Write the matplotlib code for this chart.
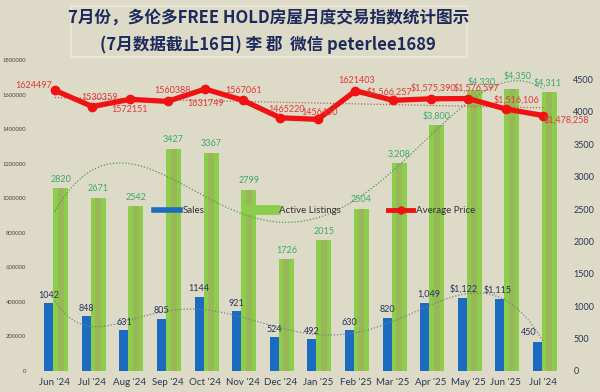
import matplotlib
matplotlib.use("Agg")
import matplotlib.pyplot as plt
import numpy as np
from matplotlib.lines import Line2D
from matplotlib.patches import FancyBboxPatch
from matplotlib.ticker import FuncFormatter

# ---- data ----
months = ["Jun '24", "Jul '24", "Aug '24", "Sep '24", "Oct '24", "Nov '24", "Dec '24",
          "Jan '25", "Feb '25", "Mar '25", "Apr '25", "May '25", "Jun '25", "Jul '24"]
sales = [1042, 848, 631, 805, 1144, 921, 524, 492, 630, 820, 1049, 1122, 1115, 450]
active = [2820, 2671, 2542, 3427, 3367, 2799, 1726, 2015, 2504, 3208, 3800, 4330, 4350, 4311]
price = [1624497, 1530359, 1572151, 1560388, 1631749, 1567061, 1465220,
         1456450, 1621403, 1566257, 1575390, 1576597, 1516106, 1478258]

sales_labels = ["1042", "848", "631", "805", "1144", "921", "524", "492", "630", "820",
                "1,049", "$1,122", "$1,115", "450"]
active_labels = ["2820", "2671", "2542", "3427", "3367", "2799", "1726", "2015", "2504",
                 "3,208", "$3,800", "$4,330", "$4,350", "$4,311"]
price_labels = ["1624497", "1530359", "1572151", "1560388", "1631749", "1567061", "1465220",
                "1456450", "1621403", "$1,566,257", "$1,575,390", "$1,576,597",
                "$1,516,106", "$1,478,258"]
# label offsets in pixels (dx, dy)
price_offsets = [(-21, 5), (7, 9), (0, -10), (5, 11), (1, -14), (1, 10), (6, 8),
                 (2, 7), (1, 10), (-4, 8), (3, 11), (8, 11), (11, 9), (23, -4)]
sales_offsets = [(0, 8)] * 10 + [(4, 9), (1, 9), (-2, 9), (-9, 9)]
active_offsets = [(0, 9)] * 11 + [(7, 8), (6, 13), (-2, 9)]

BG = "#dedac8"
NAVY = "#1d2b5c"
BLUE = "#1b6cc0"
GREEN = "#8ccd4b"
OLIVE = "#9db25c"
RED = "#f01212"

plt.rcParams["font.family"] = ["Lato", "DejaVu Sans"]

fig = plt.figure(figsize=(6, 3.92), dpi=100, facecolor=BG)
ax = fig.add_axes([0.06, 0.0536, 0.877, 0.7934])
ax.set_facecolor(BG)
ax2 = ax.twinx()

x = np.arange(len(months))

# bars on the right axis
ax2.bar(x - 0.16, sales, width=0.24, color=BLUE, zorder=2)
ax2.bar(x + 0.16, active, width=0.40, color=GREEN, zorder=1)
ax2.bar(x + 0.16, active, width=0.16, color=OLIVE, alpha=0.8, zorder=1)

# polynomial trendlines
xs = np.linspace(0, len(months) - 1, 200)
ax2.plot(xs, np.polyval(np.polyfit(x, active, 4), xs), ls=(0, (1, 1.5)),
         color="#4a9a55", lw=0.9, zorder=3)
ax2.plot(xs, np.polyval(np.polyfit(x, sales, 6), xs), ls=(0, (1, 1.5)),
         color="#7a7f88", lw=0.9, zorder=3)

for i in x:
    ax2.annotate(sales_labels[i], (i - 0.16, sales[i]), xytext=sales_offsets[i],
                 textcoords="offset pixels", ha="center", va="center",
                 fontsize=6.5, color="#26345e", zorder=6)
    ax2.annotate(active_labels[i], (i + 0.16, active[i]), xytext=active_offsets[i],
                 textcoords="offset pixels", ha="center", va="center",
                 fontsize=6.5, color="#3daa66", zorder=6)

ax2.set_ylim(0, 4800)
ax2.set_yticks(range(0, 5000, 500))
ax2.tick_params(axis="y", length=0, labelsize=6.5, labelcolor="#2b3555", pad=8)

# price line on the left axis (drawn on top)
ax.set_zorder(ax2.get_zorder() + 1)
ax.patch.set_visible(False)
ax.plot(x, np.polyval(np.polyfit(x, price, 1), x), ls=(0, (1, 1.5)),
        color="#b06060", lw=0.9, zorder=3)
ax.plot(x, price, color=RED, lw=3.8, marker="o", markersize=6, zorder=4,
        solid_capstyle="round")
for i in x:
    ax.annotate(price_labels[i], (i, price[i]), xytext=price_offsets[i],
                textcoords="offset pixels", ha="center", va="center",
                fontsize=6.5, color="#e03838", zorder=6)

ax.set_ylim(0, 1800000)
ax.set_yticks(range(0, 1800001, 200000))
ax.yaxis.set_major_formatter(FuncFormatter(lambda v, p: f"{int(v)}"))
ax.tick_params(axis="y", length=0, labelsize=4.2, labelcolor="#444444", pad=7)
ax.set_xlim(-0.5, len(months) - 0.5)
ax.set_xticks(x)
ax.set_xticklabels(months)
ax.tick_params(axis="x", length=0, labelsize=7, labelcolor="#2b3555", pad=5)

for a in (ax, ax2):
    for s in a.spines.values():
        s.set_visible(False)

handles = [Line2D([], [], color=BLUE, lw=4),
           Line2D([], [], color=GREEN, lw=7),
           Line2D([], [], color=RED, lw=3.5, marker="o", markersize=5)]
ax.legend(handles, ["Sales", "Active Listings", "Average Price"], ncol=3,
          loc="center", bbox_to_anchor=(0.53, 0.515), frameon=False,
          fontsize=7, handlelength=2.6, columnspacing=4.8, handletextpad=0.3,
          labelcolor="#333333")

# title box
fig.patches.append(FancyBboxPatch((0.118, 0.855), 0.66, 0.13, boxstyle="square,pad=0",
                                  transform=fig.transFigure, facecolor=BG,
                                  edgecolor="#ebe8da", lw=1.2))
fig.text(0.447, 0.955, "7月份，多伦多FREE HOLD房屋月度交易指数统计图示",
         ha="center", va="center", fontsize=12, fontweight="bold", color=NAVY,
         family=["Noto Sans CJK SC", "DejaVu Sans"])
fig.text(0.447, 0.885, "(7月数据截止16日) 李 郡  微信 peterlee1689",
         ha="center", va="center", fontsize=12, fontweight="bold", color=NAVY,
         family=["Noto Sans CJK SC", "DejaVu Sans"])

fig.savefig("out.png", dpi=100, facecolor=BG)
